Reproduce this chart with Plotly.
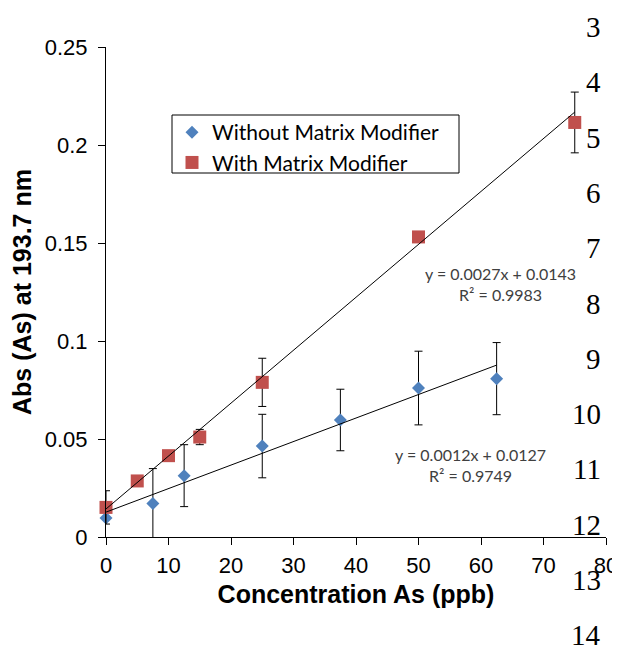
import plotly.graph_objects as go

# ---- data ----
x_without = [0, 7.5, 12.5, 25, 37.5, 50, 62.5]
y_without = [0.0097, 0.0171, 0.0313, 0.0464, 0.0597, 0.0760, 0.0808]
err_without = [0.0, 0.0178, 0.0158, 0.0162, 0.0157, 0.0188, 0.0184]

x_with = [0, 5, 10, 15, 25, 50, 75]
y_with = [0.0151, 0.0286, 0.0415, 0.0510, 0.0789, 0.1531, 0.2115]
err_with = [0.0085, 0.001, 0.0015, 0.0039, 0.0123, 0.0020, 0.0155]

fit_without = {"slope": 0.0012, "intercept": 0.0127, "r2": 0.9749, "xmax": 62.5}
fit_with = {"slope": 0.0027, "intercept": 0.0143, "r2": 0.9983, "xmax": 75}

line_numbers = [3, 4, 5, 6, 7, 8, 9, 10, 11, 12, 13, 14]

BLUE = "#4F81BD"
RED = "#C0504D"

# The page body has an 8px margin, so the figure is drawn 8px in from the
# top-left corner. Work in page pixels and convert.
OFF = 8
W, H = 620 - OFF, 648 - OFF
L, T = 106 - OFF, 47 - OFF          # plot area left / top (page px 106, 47)
R = W - (606 - OFF)                 # plot area right at page px 606
B = H - (537 - OFF)                 # plot area bottom at page px 537
pw, ph = W - L - R, H - T - B


def px(xp):
    return (xp - OFF - L) / pw


def py(yp):
    return (H - B - (yp - OFF)) / ph


fig = go.Figure()
fig.add_trace(go.Scatter(
    x=x_without, y=y_without, mode="markers", name="Without Matrix Modifier",
    marker=dict(symbol="diamond", size=10, color=BLUE), cliponaxis=False,
    error_y=dict(type="data", array=err_without, color="black", thickness=1, width=4),
))
fig.add_trace(go.Scatter(
    x=x_with, y=y_with, mode="markers", name="With Matrix Modifier",
    marker=dict(symbol="square", size=13, color=RED), cliponaxis=False,
    error_y=dict(type="data", array=err_with, color="black", thickness=1, width=4),
))
for f in (fit_without, fit_with):
    xs = [0, f["xmax"]]
    ys = [f["intercept"] + f["slope"] * v for v in xs]
    fig.add_trace(go.Scatter(x=xs, y=ys, mode="lines", showlegend=False, cliponaxis=False,
                             line=dict(color="black", width=1), hoverinfo="skip"))

ann_font = dict(family="Lato, Carlito, sans-serif", size=16, color="#404040")
fig.add_annotation(x=px(500), y=py(284), xref="paper", yref="paper",
                   xanchor="center", yanchor="middle",
                   text=f"y = {fit_with['slope']}x + {fit_with['intercept']}<br>R² = {fit_with['r2']}",
                   showarrow=False, font=ann_font, align="center")
fig.add_annotation(x=px(470), y=py(465), xref="paper", yref="paper",
                   xanchor="center", yanchor="middle",
                   text=f"y = {fit_without['slope']}x + {fit_without['intercept']}<br>R² = {fit_without['r2']}",
                   showarrow=False, font=ann_font, align="center")

# manuscript line numbers on the right
for i, n in enumerate(line_numbers):
    ypix = 27 + i * 55.3
    fig.add_annotation(x=px(603), y=py(ypix), xref="paper", yref="paper",
                       text=str(n), showarrow=False, xanchor="right", yanchor="middle",
                       font=dict(family="Liberation Serif, serif", size=29, color="black"))

# legend frame
fig.add_shape(type="rect", xref="paper", yref="paper",
              x0=px(172), x1=px(459), y0=py(173), y1=py(115),
              line=dict(color="black", width=1), fillcolor="white", layer="below")

fig.update_layout(
    width=W, height=H,
    margin=dict(l=L, r=R, t=T, b=B),
    paper_bgcolor="white", plot_bgcolor="white",
    font=dict(family="Liberation Sans, Arial, sans-serif", color="black"),
    legend=dict(x=px(172), y=py(112), xanchor="left", yanchor="top",
                borderwidth=0, bgcolor="rgba(0,0,0,0)",
                font=dict(family="Lato, Carlito, sans-serif", size=21, color="black"),
                tracegroupgap=0, itemsizing="trace"),
    xaxis=dict(range=[0, 80], dtick=10, showgrid=False, zeroline=False,
               showline=True, linecolor="black", linewidth=1, automargin=False,
               ticks="outside", ticklen=7, tickcolor="black",
               tickfont=dict(size=22), ticklabelstandoff=2,
               title=dict(text="<b>Concentration As (ppb)</b>", font=dict(size=25), standoff=8)),
    yaxis=dict(range=[0, 0.25], dtick=0.05, showgrid=False, zeroline=False,
               showline=True, linecolor="black", linewidth=1, automargin=False,
               ticks="outside", ticklen=7, tickcolor="black",
               tickfont=dict(size=22), ticklabelstandoff=6, tickformat="~g",
               title=dict(text="<b>Abs (As) at 193.7 nm</b>", font=dict(size=25), standoff=8)),
    showlegend=True,
)

fig.write_html("out.html")
